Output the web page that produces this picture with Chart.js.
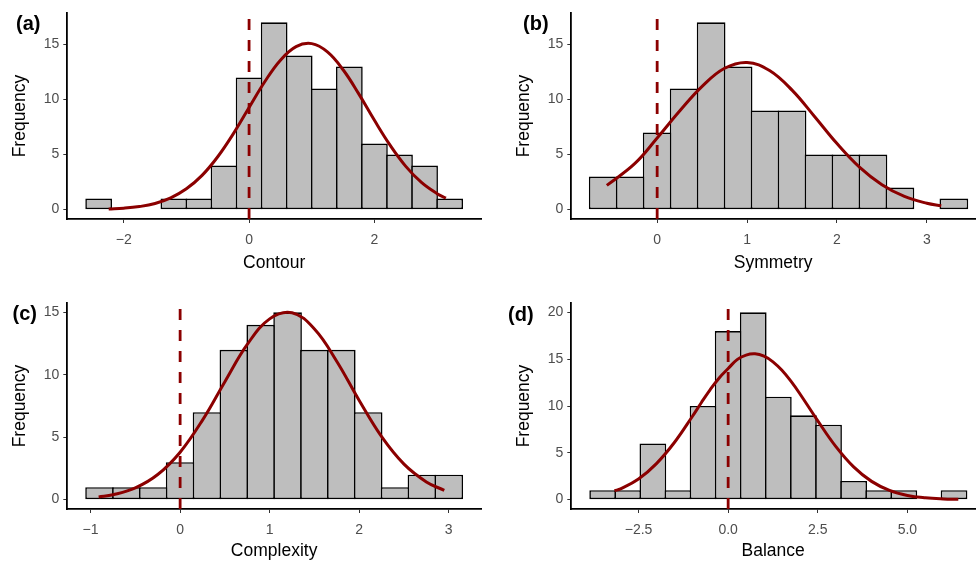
<!DOCTYPE html>
<html>
<head>
<meta charset="utf-8">
<script src="https://cdn.jsdelivr.net/npm/chart.js@4.4.1/dist/chart.umd.min.js"></script>
<style>
  body { margin: 0; background: #fff; }
  #wrap { position: relative; width: 976px; height: 563px; overflow: hidden; }
  #wrap canvas { position: absolute; }
</style>
</head>
<body>
<div id="wrap">
  <canvas id="panelA" width="488" height="282" style="left:0;top:0"></canvas>
  <canvas id="panelB" width="488" height="282" style="left:488px;top:0"></canvas>
  <canvas id="panelC" width="488" height="281" style="left:0;top:282px"></canvas>
  <canvas id="panelD" width="488" height="281" style="left:488px;top:282px"></canvas>
</div>
<script>
// histogram bins (bin centres) and counts
const contourBins = [-2.4, -2.0, -1.6, -1.2, -0.8, -0.4, 0, 0.4, 0.8, 1.2, 1.6, 2.0, 2.4, 2.8, 3.2];
const contourCounts = [1, 0, 0, 1, 1, 4, 12, 17, 14, 11, 13, 6, 5, 4, 1];

const symmetryBins = [-0.6, -0.3, 0, 0.3, 0.6, 0.9, 1.2, 1.5, 1.8, 2.1, 2.4, 2.7, 3.0, 3.3];
const symmetryCounts = [3, 3, 7, 11, 17, 13, 9, 9, 5, 5, 5, 2, 0, 1];

const complexityBins = [-0.9, -0.6, -0.3, 0, 0.3, 0.6, 0.9, 1.2, 1.5, 1.8, 2.1, 2.4, 2.7, 3.0];
const complexityCounts = [1, 1, 1, 3, 7, 12, 14, 15, 12, 12, 7, 1, 2, 2];

const balanceBins = [-3.5, -2.8, -2.1, -1.4, -0.7, 0, 0.7, 1.4, 2.1, 2.8, 3.5, 4.2, 4.9, 5.6, 6.3];
const balanceCounts = [1, 1, 6, 1, 10, 18, 20, 11, 9, 8, 2, 1, 1, 0, 1];

// normal curves, points
const contourCurveX = [-2.24, -2.0, -1.75, -1.5, -1.25, -1.0, -0.75, -0.5, -0.25, 0, 0.25, 0.5, 0.75, 1.0, 1.25, 1.5, 1.75, 2.0, 2.25, 2.5, 2.75, 3.0, 3.14];
const contourCurveY = [0.06, 0.13, 0.28, 0.56, 1.07, 1.89, 3.11, 4.80, 6.90, 9.27, 11.61, 13.57, 14.80, 15.07, 14.32, 12.70, 10.51, 8.11, 5.85, 3.93, 2.47, 1.45, 1.04];

const symmetryCurveX = [-0.56, -0.25, 0, 0.25, 0.5, 0.75, 1.0, 1.25, 1.5, 1.75, 2.0, 2.25, 2.5, 2.75, 3.0, 3.16];
const symmetryCurveY = [2.2, 4.17, 6.5, 8.95, 11.19, 12.83, 13.36, 12.63, 10.85, 8.46, 6.00, 3.86, 2.26, 1.20, 0.58, 0.35];

const complexityCurveX = [-0.91, -0.75, -0.5, -0.25, 0, 0.25, 0.5, 0.75, 1.0, 1.25, 1.5, 1.75, 2.0, 2.25, 2.5, 2.75, 2.95];
const complexityCurveY = [0.21, 0.39, 0.94, 2.01, 3.80, 6.37, 9.45, 12.43, 14.48, 14.97, 13.67, 11.07, 7.94, 5.04, 2.84, 1.42, 0.74];

const balanceCurveX = [-3.17, -3.0, -2.5, -2.0, -1.5, -1.0, -0.75, -0.5, -0.25, 0, 0.25, 0.5, 0.75, 1.0, 1.25, 1.5, 1.75, 2.0, 2.5, 3.0, 3.5, 4.0, 4.5, 5.0, 5.5, 6.0, 6.42];
const balanceCurveY = [0.95, 1.15, 2.2, 3.85, 6.10, 8.88, 10.35, 11.76, 13.0, 14.0, 14.95, 15.44, 15.57, 15.32, 14.72, 13.81, 12.65, 11.31, 8.42, 5.69, 3.50, 1.95, 0.99, 0.45, 0.19, 0.07, 0.03];

// tick labels
const contourTicks = [-2, 0, 2];
const symmetryTicks = [0, 1, 2, 3];
const complexityTicks = [-1, 0, 1, 2, 3];
const balanceTicks = [-2.5, 0, 2.5, 5];
const freqTicks15 = [0, 5, 10, 15];
const freqTicks20 = [0, 5, 10, 15, 20];

const darkRed = '#8B0000';
const fontFamily = '"Liberation Sans", Arial, Helvetica, sans-serif';
Chart.defaults.font.family = fontFamily;

// draws the (a)/(b)/... tag in the corner
const panelTag = {
  id: 'panelTag',
  afterDraw(chart, args, opts) {
    const ctx = chart.ctx;
    ctx.save();
    ctx.font = 'bold 20px ' + fontFamily;
    ctx.fillStyle = '#000';
    ctx.textBaseline = 'middle';
    ctx.fillText(opts.text, opts.x, opts.y);
    ctx.restore();
  }
};

function histPanel(id, p) {
  const topRow = p.row === 0;
  new Chart(document.getElementById(id), {
    data: {
      datasets: [
        {
          type: 'bar',
          data: p.bins.map((x, i) => ({x: x, y: p.counts[i]})),
          backgroundColor: '#BEBEBE',
          borderColor: '#000',
          borderWidth: 1.6,
          borderSkipped: false,
          barPercentage: 1.065,
          categoryPercentage: 1,
          order: 3
        },
        {
          type: 'line',
          data: [{x: 0, y: p.yMin}, {x: 0, y: p.yMax}],
          borderColor: darkRed,
          borderWidth: 2.8,
          borderDash: [11, 10],
          pointRadius: 0,
          order: 2
        },
        {
          type: 'line',
          data: p.curveX.map((x, i) => ({x: x, y: p.curveY[i]})),
          borderColor: darkRed,
          borderWidth: 3,
          pointRadius: 0,
          tension: 0.4,
          order: 1
        }
      ]
    },
    options: {
      responsive: false,
      animation: false,
      layout: {
        padding: {left: 0, right: p.padRight, top: topRow ? 13 : 21, bottom: 0}
      },
      plugins: {
        legend: {display: false},
        tooltip: {enabled: false},
        panelTag: {text: p.tag, x: p.tagX, y: p.tagY}
      },
      scales: {
        x: {
          type: 'linear',
          offset: false,
          min: p.xMin,
          max: p.xMax,
          afterBuildTicks: s => { s.ticks = p.xTicks.map(v => ({value: v})); },
          afterFit: s => { s.height = topRow ? 63 : 54; },
          ticks: {
            color: '#4D4D4D',
            font: {size: 14},
            padding: 9,
            maxRotation: 0,
            callback: v => (v < 0 ? '\u2212' : '') + Math.abs(v).toFixed(p.decimals)
          },
          grid: {display: true, offset: false, drawOnChartArea: false, drawTicks: true, tickLength: 4, color: '#333333', lineWidth: 1},
          border: {display: true, color: '#000', width: 1.8},
          title: {
            display: true,
            text: p.xTitle,
            color: '#000',
            font: {size: 17.5},
            padding: {top: 0, bottom: topRow ? 8.5 : 1}
          }
        },
        y: {
          type: 'linear',
          min: p.yMin,
          max: p.yMax,
          afterBuildTicks: s => { s.ticks = p.yTicks.map(v => ({value: v})); },
          afterFit: s => { s.width = p.yWidth; },
          ticks: {color: '#4D4D4D', font: {size: 14}, padding: 4},
          grid: {display: true, drawOnChartArea: false, drawTicks: true, tickLength: 4, color: '#333333', lineWidth: 1},
          border: {display: true, color: '#000', width: 1.8},
          title: {
            display: true,
            text: 'Frequency',
            color: '#000',
            font: {size: 17.5},
            padding: {top: p.yTitlePad, bottom: 0}
          }
        }
      }
    },
    plugins: [panelTag]
  });
}

histPanel('panelA', {
  row: 0, tag: '(a)', tagX: 16, tagY: 24,
  bins: contourBins, counts: contourCounts, curveX: contourCurveX, curveY: contourCurveY,
  xMin: -2.9, xMax: 3.7, yMin: -0.85, yMax: 17.85,
  xTicks: contourTicks, yTicks: freqTicks15, decimals: 0,
  xTitle: 'Contour', yWidth: 67.3, yTitlePad: 9.5, padRight: 7
});

histPanel('panelB', {
  row: 0, tag: '(b)', tagX: 35, tagY: 24,
  bins: symmetryBins, counts: symmetryCounts, curveX: symmetryCurveX, curveY: symmetryCurveY,
  xMin: -0.955, xMax: 3.535, yMin: -0.85, yMax: 17.85,
  xTicks: symmetryTicks, yTicks: freqTicks15, decimals: 0,
  xTitle: 'Symmetry', yWidth: 83.3, yTitlePad: 25.5, padRight: 1
});

histPanel('panelC', {
  row: 1, tag: '(c)', tagX: 12.5, tagY: 32,
  bins: complexityBins, counts: complexityCounts, curveX: complexityCurveX, curveY: complexityCurveY,
  xMin: -1.26, xMax: 3.36, yMin: -0.75, yMax: 15.75,
  xTicks: complexityTicks, yTicks: freqTicks15, decimals: 0,
  xTitle: 'Complexity', yWidth: 67.3, yTitlePad: 9.5, padRight: 7
});

histPanel('panelD', {
  row: 1, tag: '(d)', tagX: 20, tagY: 33,
  bins: balanceBins, counts: balanceCounts, curveX: balanceCurveX, curveY: balanceCurveY,
  xMin: -4.375, xMax: 6.885, yMin: -1, yMax: 21,
  xTicks: balanceTicks, yTicks: freqTicks20, decimals: 1,
  xTitle: 'Balance', yWidth: 83.3, yTitlePad: 25.5, padRight: 1
});
</script>
</body>
</html>
